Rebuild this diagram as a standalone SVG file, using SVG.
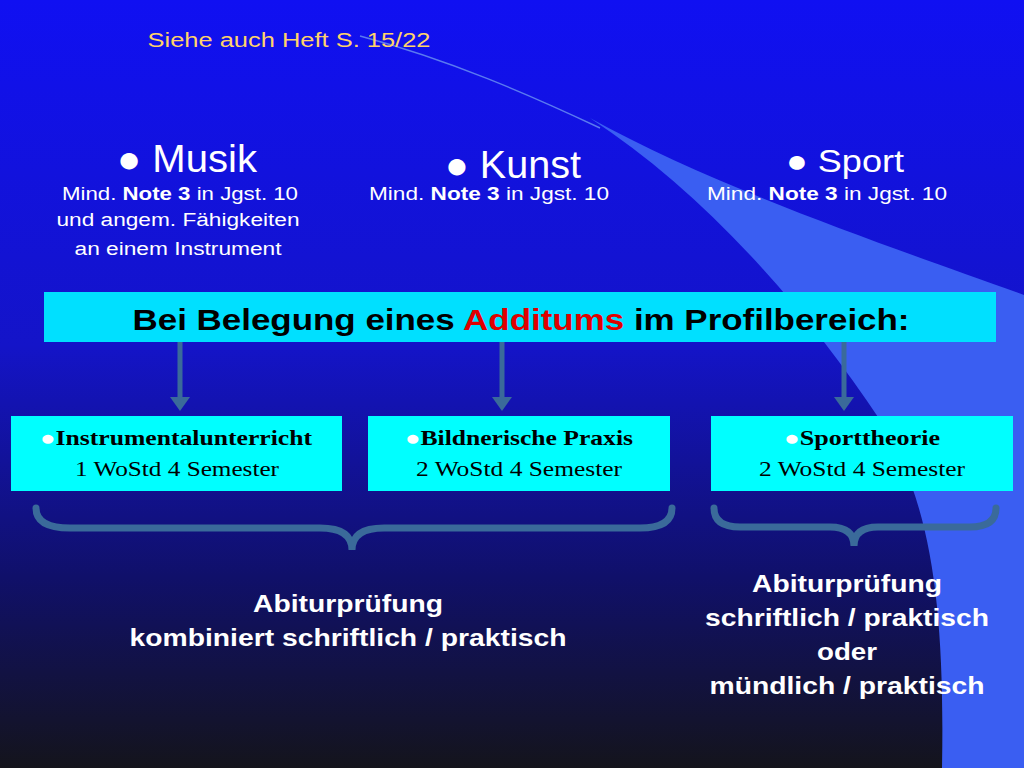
<svg xmlns="http://www.w3.org/2000/svg" width="1024" height="768" viewBox="0 0 1024 768">
<defs>
<linearGradient id="bg" x1="0" y1="0" x2="0" y2="1">
<stop offset="0" stop-color="#1010f2"/>
<stop offset="0.45" stop-color="#1414c8"/>
<stop offset="0.75" stop-color="#10106a"/>
<stop offset="1" stop-color="#14141c"/>
</linearGradient>
<style>
.s{font-family:"Liberation Sans",Arial,sans-serif;fill:#fff;text-anchor:middle}
.t{font-family:"Liberation Serif","Times New Roman",serif;fill:#000;text-anchor:middle;font-size:21px}
.box{fill:#00ffff}
.cn{stroke:#3a6a9a;stroke-width:5;fill:none}
.br{stroke:#3a6a9a;stroke-width:7;fill:none;stroke-linecap:round}
</style>
</defs>
<rect width="1024" height="768" fill="url(#bg)"/>
<path d="M590,118 C700,190 800,300 880,420 C930,500 945,600 942,768 L1024,768 L1024,295 C900,250 720,190 590,118 Z" fill="#3a5ef2"/>
<path d="M360,36 C450,60 530,95 600,128" stroke="#5a7af0" stroke-width="1.5" fill="none"/>
<text x="289" y="47" font-family="Liberation Sans,Arial,sans-serif" font-size="20" fill="#ffd36a" text-anchor="middle" textLength="283" lengthAdjust="spacingAndGlyphs">Siehe auch Heft S. 15/22</text>
<g id="musik">
<text class="s" x="187" y="172" font-size="38" textLength="140" lengthAdjust="spacingAndGlyphs">● Musik</text>
<text class="s" x="180" y="200" font-size="18" textLength="236" lengthAdjust="spacingAndGlyphs">Mind. <tspan font-weight="bold">Note 3</tspan> in Jgst. 10</text>
<text class="s" x="178" y="226" font-size="18" textLength="243" lengthAdjust="spacingAndGlyphs">und angem. Fähigkeiten</text>
<text class="s" x="178" y="255" font-size="18" textLength="207" lengthAdjust="spacingAndGlyphs">an einem Instrument</text>
</g>
<g id="kunst">
<text class="s" x="513" y="178" font-size="38" textLength="136" lengthAdjust="spacingAndGlyphs">● Kunst</text>
<text class="s" x="489" y="200" font-size="18" textLength="240" lengthAdjust="spacingAndGlyphs">Mind. <tspan font-weight="bold">Note 3</tspan> in Jgst. 10</text>
</g>
<g id="sport">
<text class="s" x="845" y="172" font-size="32" textLength="118" lengthAdjust="spacingAndGlyphs">●  Sport</text>
<text class="s" x="827" y="200" font-size="18" textLength="240" lengthAdjust="spacingAndGlyphs">Mind. <tspan font-weight="bold">Note 3</tspan> in Jgst. 10</text>
</g>
<g id="banner">
<rect x="44" y="292" width="952" height="50" fill="#00e0ff"/>
<text x="521" y="330" font-family="Liberation Sans,Arial,sans-serif" font-weight="bold" font-size="29" fill="#000" text-anchor="middle" textLength="777" lengthAdjust="spacingAndGlyphs">Bei Belegung eines  <tspan fill="#e00000">Additums</tspan>  im Profilbereich:</text>
</g>
<g id="connectors">
<line class="cn" x1="180" y1="342" x2="180" y2="400"/>
<path d="M170,397 L190,397 L180,411 Z" fill="#3a6a9a"/>
<line class="cn" x1="502" y1="342" x2="502" y2="400"/>
<path d="M492,397 L512,397 L502,411 Z" fill="#3a6a9a"/>
<line class="cn" x1="844" y1="342" x2="844" y2="400"/>
<path d="M834,397 L854,397 L844,411 Z" fill="#3a6a9a"/>
<path class="br" d="M36,508 Q36,528 70,528 L320,528 Q352,528 352,550 Q352,528 384,528 L640,528 Q672,528 672,508"/>
<path class="br" d="M714,508 Q714,527 740,527 L830,527 Q854,527 854,546 Q854,527 878,527 L970,527 Q996,527 996,508"/>
</g>
<g id="instr">
<rect class="box" x="11" y="416" width="331" height="75"/>
<text class="t" x="176" y="445" font-weight="bold" textLength="272" lengthAdjust="spacingAndGlyphs"><tspan fill="#fff">●</tspan>Instrumentalunterricht</text>
<text class="t" x="177" y="476" textLength="204" lengthAdjust="spacingAndGlyphs">1 WoStd 4 Semester</text>
</g>
<g id="bild">
<rect class="box" x="368" y="416" width="302" height="75"/>
<text class="t" x="519" y="445" font-weight="bold" textLength="228" lengthAdjust="spacingAndGlyphs"><tspan fill="#fff">●</tspan>Bildnerische Praxis</text>
<text class="t" x="519" y="476" textLength="206" lengthAdjust="spacingAndGlyphs">2 WoStd 4 Semester</text>
</g>
<g id="sportth">
<rect class="box" x="711" y="416" width="302" height="75"/>
<text class="t" x="862" y="445" font-weight="bold" textLength="156" lengthAdjust="spacingAndGlyphs"><tspan fill="#fff">●</tspan>Sporttheorie</text>
<text class="t" x="862" y="476" textLength="206" lengthAdjust="spacingAndGlyphs">2 WoStd 4 Semester</text>
</g>
<g id="abi1">
<text class="s" x="348" y="612" font-size="24" font-weight="bold" textLength="190" lengthAdjust="spacingAndGlyphs">Abiturprüfung</text>
<text class="s" x="348" y="646" font-size="24" font-weight="bold" textLength="437" lengthAdjust="spacingAndGlyphs">kombiniert schriftlich / praktisch</text>
</g>
<g id="abi2">
<text class="s" x="847" y="592" font-size="24" font-weight="bold" textLength="190" lengthAdjust="spacingAndGlyphs">Abiturprüfung</text>
<text class="s" x="847" y="626" font-size="24" font-weight="bold" textLength="284" lengthAdjust="spacingAndGlyphs">schriftlich / praktisch</text>
<text class="s" x="847" y="660" font-size="24" font-weight="bold" textLength="60" lengthAdjust="spacingAndGlyphs">oder</text>
<text class="s" x="847" y="694" font-size="24" font-weight="bold" textLength="275" lengthAdjust="spacingAndGlyphs">mündlich / praktisch</text>
</g>
</svg>
